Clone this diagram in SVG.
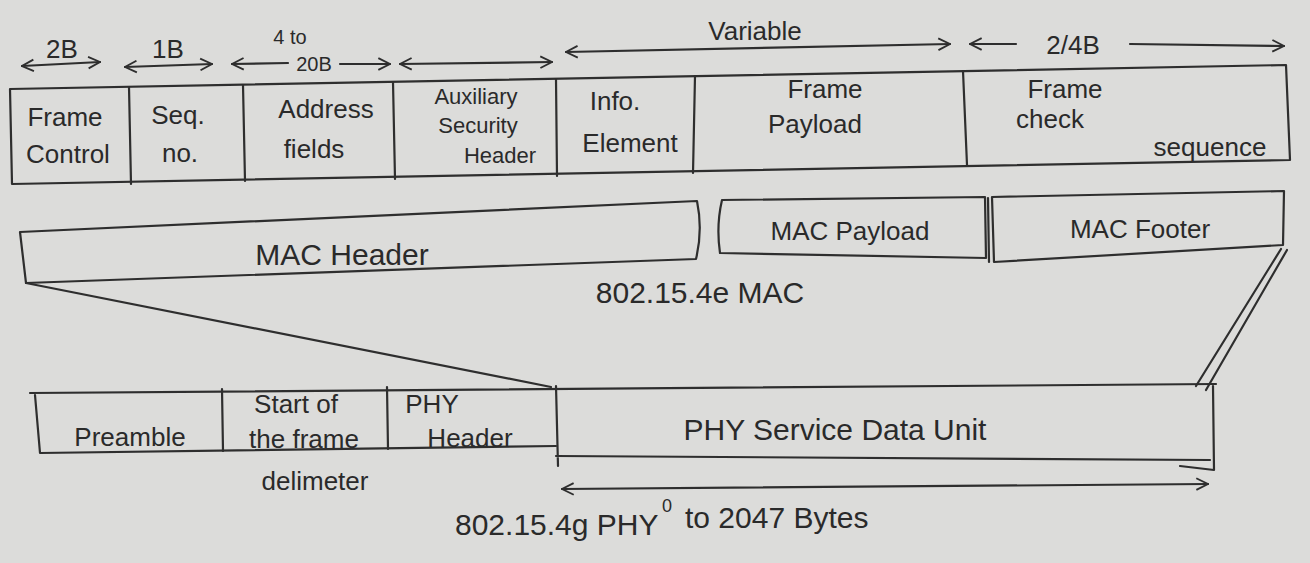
<svg xmlns="http://www.w3.org/2000/svg" width="1310" height="563" viewBox="0 0 1310 563">
<defs>
<style>
.ink{fill:none;stroke:#2e2e2e;stroke-width:2.2;stroke-linecap:round;stroke-linejoin:round}
.t{font-family:"Liberation Sans","DejaVu Sans",sans-serif;fill:#2a2a2a;font-size:26px}
.tm{text-anchor:middle}
.big{font-size:30px}
.sm{font-size:22px}
</style>
<marker id="ah" viewBox="0 0 12 12" refX="11" refY="6" markerWidth="14" markerHeight="14" markerUnits="userSpaceOnUse" orient="auto-start-reverse">
<path d="M1,1 L11,6 L1,11" fill="none" stroke="#2e2e2e" stroke-width="1.6"/>
</marker>
</defs>
<rect width="1310" height="563" fill="#dcdcda"/>

<!-- top frame table -->
<g id="mac-frame-table">
<path class="ink" d="M10,89 L1286,65 L1290,160 L12,184 Z"/>
</g>
<g id="frame-control">
<text class="t tm" x="65" y="126">Frame</text>
<text class="t tm" x="68" y="163">Control</text>
</g>
<g id="seq-no">
<path class="ink" d="M129,87 L131,184"/>
<text class="t tm" x="178" y="124">Seq.</text>
<text class="t tm" x="180" y="162">no.</text>
</g>
<g id="address-fields">
<path class="ink" d="M243,85 L245,181"/>
<text class="t tm" x="326" y="118">Address</text>
<text class="t tm" x="314" y="158">fields</text>
</g>
<g id="aux-security-header">
<path class="ink" d="M393,82 L395,179"/>
<text class="t tm sm" x="476" y="104">Auxiliary</text>
<text class="t tm sm" x="478" y="133">Security</text>
<text class="t tm sm" x="500" y="163">Header</text>
</g>
<g id="info-element">
<path class="ink" d="M556,79 L557,176"/>
<text class="t tm" x="615" y="110">Info.</text>
<text class="t tm" x="630" y="152">Element</text>
</g>
<g id="frame-payload">
<path class="ink" d="M695,76 L693,173"/>
<text class="t tm" x="825" y="98">Frame</text>
<text class="t tm" x="815" y="133">Payload</text>
</g>
<g id="frame-check-sequence">
<path class="ink" d="M963,71 L967,165"/>
<text class="t tm" x="1065" y="98">Frame</text>
<text class="t tm" x="1050" y="128">check</text>
<text class="t tm" x="1210" y="156">sequence</text>
</g>

<!-- MAC row -->
<g id="mac-header">
<path class="ink" d="M20,232 L697,201 Q703,230 696,259 L26,283 L20,232"/>
<text class="t tm big" x="342" y="265">MAC Header</text>
</g>
<g id="mac-payload">
<path class="ink" d="M722,200 L985,197 L986,258 L720,253 M722,200 Q716,226 720,253"/>
<text class="t tm" x="850" y="240">MAC Payload</text>
</g>
<g id="mac-footer">
<path class="ink" d="M992,197 L1284,191 L1283,245 L994,262 Z"/>
<path class="ink" d="M988,198 L989,262"/>
<text class="t tm" x="1140" y="238">MAC Footer</text>
</g>
<g id="mac-label">
<text class="t tm big" x="700" y="303">802.15.4e MAC</text>
</g>

<!-- PHY row -->
<g id="preamble">
<path class="ink" d="M30,393 L1216,384 M35,395 L40,453 L556,446"/>
<text class="t tm" x="130" y="446">Preamble</text>
</g>
<g id="sfd">
<path class="ink" d="M222,389 L223,451"/>
<text class="t tm" x="296" y="413">Start of</text>
<text class="t tm" x="304" y="448">the frame</text>
<text class="t tm" x="315" y="490">delimeter</text>
</g>
<g id="phy-header">
<path class="ink" d="M387,387 L388,449"/>
<text class="t tm" x="432" y="413">PHY</text>
<text class="t tm" x="470" y="447">Header</text>
</g>
<g id="psdu">
<path class="ink" d="M556,386 L558,466 M556,456 L1210,460 M1213,386 L1214,470 L1180,466"/>
<text class="t tm big" x="835" y="440">PHY Service Data Unit</text>
</g>
<g id="phy-label">
<text class="t big" x="455" y="535">802.15.4g PHY</text>
<text class="t" x="662" y="512" style="font-size:18px">0</text>
<text class="t big" x="685" y="528">to 2047 Bytes</text>
</g>

<!-- connectors -->
<g id="connectors">
<path class="ink" d="M22,66 L100,62" marker-start="url(#ah)" marker-end="url(#ah)"/>
<path class="ink" d="M125,67 L212,64" marker-start="url(#ah)" marker-end="url(#ah)"/>
<path class="ink" d="M232,64 L288,63" marker-start="url(#ah)"/>
<path class="ink" d="M340,64 L390,64" marker-end="url(#ah)"/>
<path class="ink" d="M400,64 L552,62" marker-start="url(#ah)" marker-end="url(#ah)"/>
<path class="ink" d="M566,52 L950,44" marker-start="url(#ah)" marker-end="url(#ah)"/>
<path class="ink" d="M970,44 L1016,44" marker-start="url(#ah)"/>
<path class="ink" d="M1130,44 L1284,46" marker-end="url(#ah)"/>
<path class="ink" d="M26,283 L551,387"/>
<path class="ink" d="M1281,249 L1196,386 M1287,250 L1206,390"/>
<path class="ink" d="M562,489 L1208,484" marker-start="url(#ah)" marker-end="url(#ah)"/>
</g>
<g id="size-labels">
<text class="t tm" x="62" y="58">2B</text>
<text class="t tm" x="168" y="58">1B</text>
<text class="t tm" x="290" y="44" style="font-size:20px">4 to</text>
<text class="t tm" x="314" y="71" style="font-size:20px">20B</text>
<text class="t tm" x="755" y="40">Variable</text>
<text class="t tm" x="1073" y="54">2/4B</text>
</g>
</svg>
